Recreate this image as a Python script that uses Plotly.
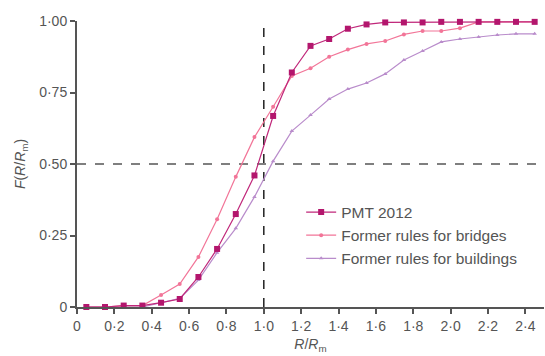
import plotly.graph_objects as go

x_vals = [0.05, 0.15, 0.25, 0.35, 0.45, 0.55, 0.65, 0.75, 0.85, 0.95,
          1.05, 1.15, 1.25, 1.35, 1.45, 1.55, 1.65, 1.75, 1.85, 1.95,
          2.05, 2.15, 2.25, 2.35, 2.45]
pmt_2012 = [0.0, 0.0, 0.005, 0.005, 0.015, 0.028, 0.105, 0.203, 0.325, 0.46,
            0.668, 0.82, 0.913, 0.937, 0.973, 0.988, 0.995, 0.995, 0.995, 0.997,
            0.997, 0.997, 0.997, 0.997, 0.997]
bridges = [0.0, 0.0, 0.005, 0.005, 0.042, 0.08, 0.175, 0.307, 0.455, 0.594,
           0.70, 0.808, 0.835, 0.875, 0.90, 0.92, 0.93, 0.953, 0.965, 0.965,
           0.975, 0.997, 0.997, 0.997, 0.997]
buildings = [0.0, 0.0, 0.0, 0.0, 0.015, 0.03, 0.094, 0.19, 0.275, 0.385,
             0.51, 0.615, 0.671, 0.727, 0.762, 0.783, 0.815, 0.864, 0.895, 0.927,
             0.937, 0.944, 0.951, 0.955, 0.955]
series_names = ["PMT 2012", "Former rules for bridges", "Former rules for buildings"]

x_ticks = [0, 0.2, 0.4, 0.6, 0.8, 1.0, 1.2, 1.4, 1.6, 1.8, 2.0, 2.2, 2.4]
x_ticktext = ["0", "0·2", "0·4", "0·6", "0·8", "1·0", "1·2", "1·4", "1·6", "1·8", "2·0", "2·2", "2·4"]
y_ticks = [0, 0.25, 0.5, 0.75, 1.0]
y_ticktext = ["0", "0·25", "0·50", "0·75", "1·00"]

fig = go.Figure()

# reference lines
fig.add_trace(go.Scatter(x=[0, 2.5], y=[0.5, 0.5], mode="lines",
                         line=dict(color="#555555", width=1.5, dash="dash"),
                         showlegend=False, hoverinfo="skip"))
fig.add_trace(go.Scatter(x=[1.0, 1.0], y=[0, 1.0], mode="lines",
                         line=dict(color="#222222", width=1.5, dash="dash"),
                         showlegend=False, hoverinfo="skip"))

fig.add_trace(go.Scatter(x=x_vals, y=buildings, name=series_names[2], mode="lines+markers",
                         line=dict(color="#b98ccb", width=1.2),
                         marker=dict(color="#b98ccb", size=4, symbol="triangle-up"),
                         cliponaxis=False))
fig.add_trace(go.Scatter(x=x_vals, y=bridges, name=series_names[1], mode="lines+markers",
                         line=dict(color="#f27598", width=1.2),
                         marker=dict(color="#f27598", size=4),
                         cliponaxis=False))
fig.add_trace(go.Scatter(x=x_vals, y=pmt_2012, name=series_names[0], mode="lines+markers",
                         line=dict(color="#c0277a", width=1.2),
                         marker=dict(color="#b3166d", size=6, symbol="square"),
                         cliponaxis=False))

font_family = "Liberation Sans, Arial, sans-serif"
fig.update_layout(
    width=545, height=356,
    margin=dict(l=77, r=1, t=21, b=49),
    plot_bgcolor="white", paper_bgcolor="white",
    font=dict(family=font_family, size=14, color="#555555"),
    showlegend=True,
    legend=dict(x=0.48, y=0.39, xanchor="left", yanchor="top",
                traceorder="reversed", bgcolor="rgba(0,0,0,0)",
                font=dict(size=15.5, color="#555555"), itemwidth=30,
                tracegroupgap=0),
    xaxis=dict(range=[0, 2.5], tickvals=x_ticks, ticktext=x_ticktext,
               showgrid=False, zeroline=False, showline=True,
               linecolor="#555555", linewidth=2, ticks="outside",
               tickcolor="#555555", ticklen=5, tickwidth=1.5,
               title=dict(text="<i>R</i>/<i>R</i><sub>m</sub>", standoff=6,
                          font=dict(size=14, color="#555555"))),
    yaxis=dict(range=[0, 1.0], tickvals=y_ticks, ticktext=y_ticktext,
               showgrid=False, zeroline=False, showline=True,
               linecolor="#555555", linewidth=2, ticks="outside",
               tickcolor="#555555", ticklen=5, tickwidth=1.5,
               title=dict(text="<i>F</i>(<i>R</i>/<i>R</i><sub>m</sub>)", standoff=10,
                          font=dict(size=14, color="#555555"))),
)

fig.write_html("out.html")
